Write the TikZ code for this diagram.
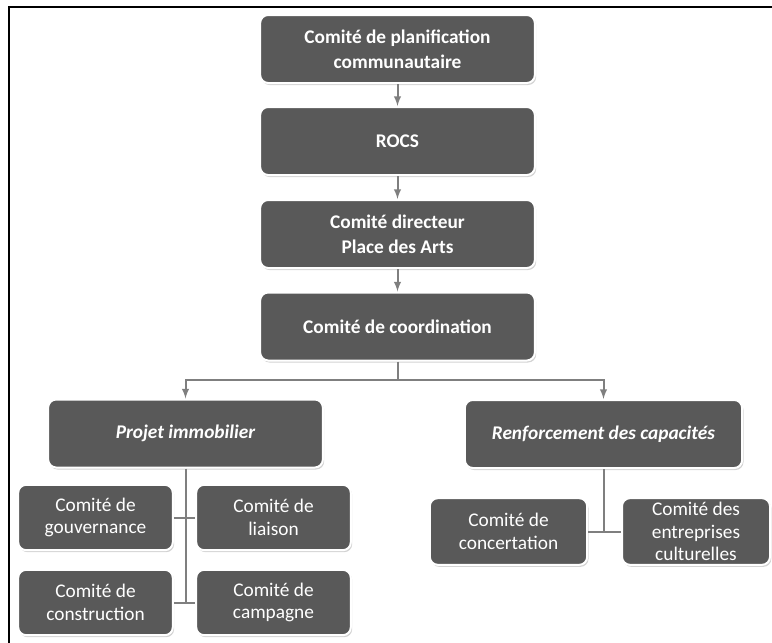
\documentclass[tikz,border=0pt]{standalone}
\usepackage{fontspec}
\setmainfont{Carlito}
\usetikzlibrary{shadows}
\definecolor{boxgray}{RGB}{89,89,89}
\definecolor{linegray}{RGB}{127,127,127}
\tikzset{
  box/.style={rectangle,rounded corners=6pt,draw=white,line width=1.5pt,fill=boxgray,text=white,align=center,inner sep=0pt,
    font=\fontsize{14.5}{17}\selectfont,drop shadow={opacity=0.35,shadow xshift=1pt,shadow yshift=-1.5pt}},
  bigbox/.style={box,minimum width=206pt,minimum height=51pt,font=\bfseries\fontsize{14.5}{19}\selectfont},
  smallbox/.style={box,minimum width=116pt,minimum height=49pt},
  link/.style={draw=linegray,line width=1.5pt}
}
\begin{document}
\begin{tikzpicture}[>=latex,x=0.75pt,y=-0.75pt]
\useasboundingbox (0,0) rectangle (772,643);
\draw[line width=1.8pt] (9,643)--(9,7)--(772,7);

\node (plan) at (397.5,49)[bigbox]{Comité de planification\\communautaire};
\node (rocs) at (397.5,141)[bigbox]{ROCS};
\node (dir) at (397.5,234)[bigbox]{Comité directeur\\Place des Arts};
\node (coord) at (397.5,326.5)[bigbox]{Comité de coordination};
\node (immo) at (185.5,433.5)[bigbox]{\itshape Projet immobilier};
\node (renf) at (603.5,434)[bigbox,minimum width=208pt]{\itshape Renforcement des capacités};

\node (gouv) at (95.5,517.5)[smallbox]{Comité de\\gouvernance};
\node (liai) at (273.5,517.5)[smallbox]{Comité de\\liaison};
\node (cons) at (95.5,602.5)[smallbox]{Comité de\\construction};
\node (camp) at (273.5,602.5)[smallbox]{Comité de\\campagne};
\node (conc) at (508.5,531.5)[smallbox,minimum width=118pt,minimum height=50pt]{Comité de\\concertation};
\node (entr) at (696,531.5)[smallbox,minimum width=111pt,minimum height=50pt]{Comité des\\entreprises\\culturelles};

\coordinate (split) at (397.5,380);
\draw[link,->](plan)--(rocs);
\draw[link,->](rocs)--(dir);
\draw[link,->](dir)--(coord);
\draw[link](coord)--(split);
\draw[link,->](split)-|(immo);
\draw[link,->](split)-|(renf);
\draw[link](immo)--(immo |- cons.east);
\draw[link](gouv)--(liai);
\draw[link](cons)--(camp);
\draw[link](renf)--(renf |- conc.east);
\draw[link](conc)--(entr);
\end{tikzpicture}
\end{document}
